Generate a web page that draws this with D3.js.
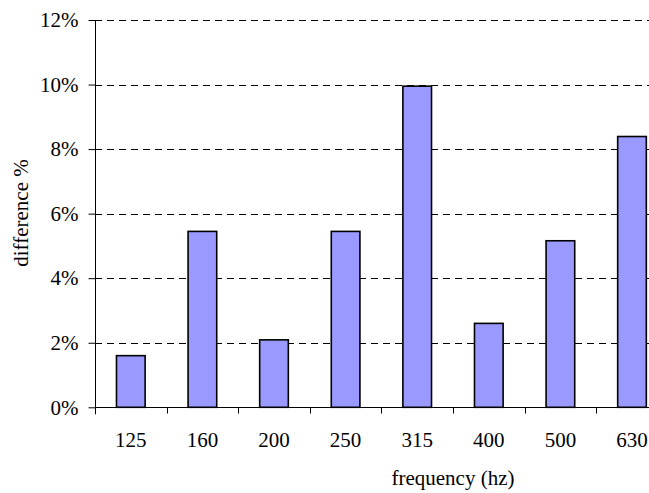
<!DOCTYPE html>
<html>
<head>
<meta charset="utf-8">
<script src="https://cdn.jsdelivr.net/npm/d3@7"></script>
<style>
  html, body { margin: 0; padding: 0; background: #fff; }
  svg { display: block; }
  text { font-family: "Liberation Serif", "Times New Roman", serif; fill: #000; }
</style>
</head>
<body>
<svg id="chart" width="649" height="493"></svg>
<script>
// Frequency bands and percentage difference per band
const categories = ["125", "160", "200", "250", "315", "400", "500", "630"];
const values = [1.60, 5.45, 2.09, 5.45, 9.95, 2.60, 5.16, 8.39];
const yTicks = [0, 2, 4, 6, 8, 10, 12];
const xTitle = "frequency (hz)";
const yTitle = "difference %";

const fontSize = "21px";
const svg = d3.select("#chart");
const plotLeft = 95, plotTop = 20, plotBottom = 407.3;
const step = 71.6;
const plotRight = plotLeft + step * categories.length;

const x = d3.scaleBand().domain(categories).range([plotLeft, plotRight]).padding(0);
const y = d3.scaleLinear().domain([0, 12]).range([plotBottom, plotTop]);

// dashed horizontal gridlines
svg.append("g")
  .selectAll("line")
  .data(yTicks.filter(t => t > 0))
  .join("line")
  .attr("x1", plotLeft)
  .attr("x2", plotRight)
  .attr("y1", d => Math.round(y(d)) + 0.5)
  .attr("y2", d => Math.round(y(d)) + 0.5)
  .attr("stroke", "#000")
  .attr("stroke-width", 1)
  .attr("stroke-dasharray", "7,5");

// bars
const barW = x.bandwidth() * 0.4;
svg.append("g")
  .selectAll("rect")
  .data(values)
  .join("rect")
  .attr("x", (d, i) => x(categories[i]) + (x.bandwidth() - barW) / 2)
  .attr("y", d => y(d))
  .attr("width", barW)
  .attr("height", d => y(0) - y(d))
  .attr("fill", "#9999ff")
  .attr("stroke", "#000")
  .attr("stroke-width", 1.6);

// y axis
const yAxis = d3.axisLeft(y)
  .tickValues(yTicks)
  .tickFormat(d => d + "%")
  .tickSize(7)
  .tickPadding(10);
const gy = svg.append("g")
  .attr("transform", `translate(${plotLeft + 0.5},0)`)
  .call(yAxis);
gy.select(".domain").attr("d", `M0,${plotTop}V${plotBottom + 7}`).attr("stroke", "#000");
gy.selectAll(".tick line").attr("stroke", "#000");
gy.selectAll(".tick text")
  .style("font-family", "'Liberation Serif', 'Times New Roman', serif")
  .style("font-size", fontSize)
  .attr("fill", "#000");

// x axis with ticks at band boundaries
const gx = svg.append("g").attr("transform", `translate(0,${Math.round(plotBottom) + 0.5})`);
gx.append("line")
  .attr("x1", plotLeft).attr("x2", plotRight)
  .attr("stroke", "#000");
gx.selectAll("line.tick")
  .data(categories.slice(1))
  .join("line")
  .attr("class", "tick")
  .attr("x1", d => Math.round(x(d)) + 0.5)
  .attr("x2", d => Math.round(x(d)) + 0.5)
  .attr("y1", 0)
  .attr("y2", 6)
  .attr("stroke", "#000");
gx.selectAll("text")
  .data(categories)
  .join("text")
  .attr("x", d => x(d) + x.bandwidth() / 2)
  .attr("y", 39)
  .attr("text-anchor", "middle")
  .style("font-size", fontSize)
  .text(d => d);

// axis titles
svg.append("text")
  .attr("x", 453)
  .attr("y", 485)
  .attr("text-anchor", "middle")
  .style("font-size", fontSize)
  .text(xTitle);

svg.append("text")
  .attr("transform", "translate(28,213) rotate(-90)")
  .attr("text-anchor", "middle")
  .style("font-size", fontSize)
  .text(yTitle);
</script>
</body>
</html>
